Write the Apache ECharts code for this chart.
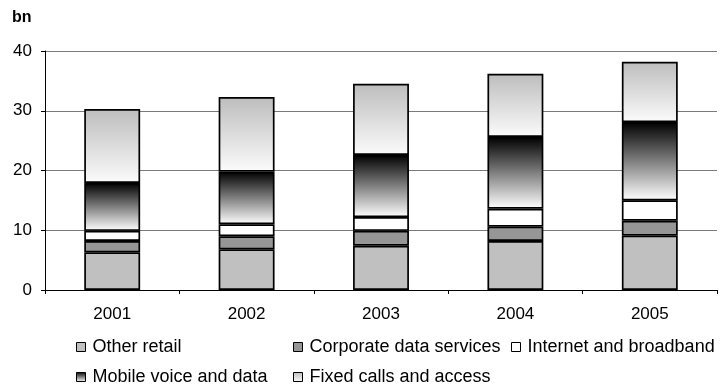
<!DOCTYPE html>
<html>
<head>
<meta charset="utf-8">
<script src="https://cdn.jsdelivr.net/npm/echarts@6/dist/echarts.min.js"></script>
<style>
  html, body { margin: 0; padding: 0; background: #fff; }
  #chart { width: 723px; height: 385px; }
</style>
</head>
<body>
<div id="chart"></div>
<script>
// Revenue by segment, bn
const years = ['2001', '2002', '2003', '2004', '2005'];
const otherRetail = [6.3, 6.8, 7.4, 8.2, 9.1];
const corporateData = [1.9, 2.2, 2.5, 2.4, 2.5];
const internetBroadband = [1.7, 2.0, 2.3, 3.0, 3.4];
const mobileVoiceData = [8.0, 8.8, 10.4, 12.0, 13.1];
const fixedCalls = [12.4, 12.5, 11.9, 10.6, 10.1];
const yTicks = [0, 10, 20, 30, 40];

const FONT = '"Liberation Sans", Arial, sans-serif';
const FS = 17;
const LEGEND_FS = 18;

function vGrad(top, bottom) {
  return new echarts.graphic.LinearGradient(0, 0, 0, 1, [
    { offset: 0, color: top },
    { offset: 1, color: bottom }
  ]);
}

const seriesDefs = [
  { name: 'Other retail', data: otherRetail, color: '#c0c0c0' },
  { name: 'Corporate data services', data: corporateData, color: '#969696' },
  { name: 'Internet and broadband', data: internetBroadband, color: '#ffffff' },
  { name: 'Mobile voice and data', data: mobileVoiceData, color: vGrad('#000000', '#ffffff') },
  { name: 'Fixed calls and access', data: fixedCalls, color: vGrad('#bdbdbd', '#fbfbfb') }
];

// legend laid out as a 3-column grid, one block per entry
const legendPos = [
  { left: 76, top: 338 },
  { left: 293, top: 338 },
  { left: 511, top: 338 },
  { left: 76, top: 368 },
  { left: 293, top: 368 }
];

const chart = echarts.init(document.getElementById('chart'), null, { renderer: 'canvas' });

chart.setOption({
  animation: false,
  backgroundColor: '#ffffff',
  title: {
    text: 'bn',
    left: 12,
    top: 10,
    padding: 0,
    textStyle: { fontFamily: FONT, fontSize: 16, fontWeight: 'bold', color: '#000' }
  },
  grid: { left: 45, right: 6, top: 51, bottom: 95 },
  legend: seriesDefs.map((s, i) => ({
    data: [s.name],
    left: legendPos[i].left,
    top: legendPos[i].top,
    padding: 0,
    itemWidth: 9,
    itemHeight: 9,
    itemGap: 0,
    icon: 'rect',
    selectedMode: false,
    textStyle: { fontFamily: FONT, fontSize: LEGEND_FS, color: '#000', padding: [0, 0, 0, 2] },
    itemStyle: { borderColor: '#000', borderWidth: 1 }
  })),
  xAxis: {
    type: 'category',
    data: years,
    axisLine: { lineStyle: { color: '#000', width: 1 } },
    axisTick: { show: true, length: 4, lineStyle: { color: '#000' } },
    axisLabel: { fontFamily: FONT, fontSize: FS, color: '#000', margin: 16 }
  },
  yAxis: {
    type: 'value',
    min: yTicks[0],
    max: yTicks[yTicks.length - 1],
    interval: 10,
    axisLine: { show: true, lineStyle: { color: '#000', width: 1 } },
    axisTick: { show: true, length: 4, lineStyle: { color: '#000' } },
    axisLabel: { fontFamily: FONT, fontSize: FS, color: '#000', margin: 13 },
    splitLine: { lineStyle: { color: '#7a7a7a', width: 1 } }
  },
  series: seriesDefs.map(s => ({
    name: s.name,
    type: 'bar',
    stack: 'total',
    data: s.data,
    barWidth: '41.6%',
    itemStyle: { color: s.color, borderColor: '#000', borderWidth: 1.7 }
  }))
});
</script>
</body>
</html>
